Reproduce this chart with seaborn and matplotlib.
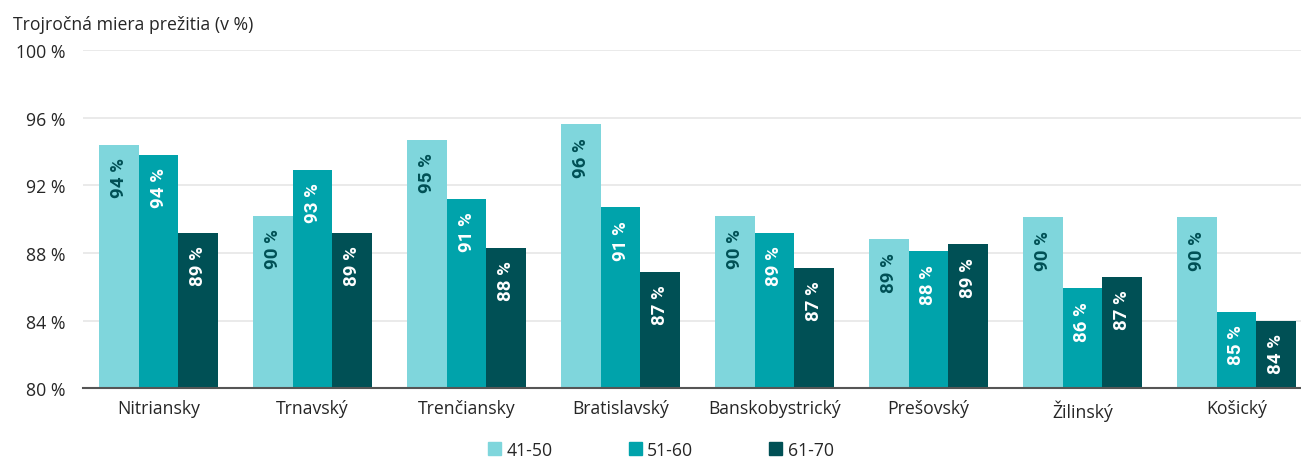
import math
import pandas as pd
import seaborn as sns
import matplotlib.pyplot as plt
from matplotlib.patches import Patch

kraje = ['Nitriansky', 'Trnavský', 'Trenčiansky', 'Bratislavský',
         'Banskobystrický', 'Prešovský', 'Žilinský', 'Košický']
vek_41_50 = [94.4, 90.2, 94.7, 95.6, 90.2, 88.8, 90.1, 90.1]
vek_51_60 = [93.8, 92.9, 91.2, 90.7, 89.2, 88.1, 85.9, 84.5]
vek_61_70 = [89.2, 89.2, 88.3, 86.9, 87.1, 88.5, 86.6, 84.0]
skupiny = ['41-50', '51-60', '61-70']
farby = ['#7fd6dc', '#00a3ab', '#005055']
farby_textu = ['#005055', 'white', 'white']

df = pd.DataFrame({'kraj': kraje * 3,
                   'skupina': [s for s in skupiny for _ in kraje],
                   'hodnota': vek_41_50 + vek_51_60 + vek_61_70})

sns.set_style('white')
plt.rcParams['font.family'] = ['Open Sans', 'DejaVu Sans']
fs = 12.7

fig, ax = plt.subplots(figsize=(13.01, 4.6), dpi=100)
fig.subplots_adjust(left=0.064, right=1.0, top=0.889, bottom=0.154)

sns.barplot(data=df, x='kraj', y='hodnota', hue='skupina', hue_order=skupiny,
            palette=farby, width=0.77, gap=0, saturation=1, ax=ax, legend=False,
            edgecolor='none', zorder=2)

# popisky hodnot, zaokruhlene nahor od .5
for cont, tc in zip(ax.containers, farby_textu):
    for bar, v in zip(cont, cont.datavalues):
        ax.annotate(f'{math.floor(v + 0.5)} %',
                    (bar.get_x() + bar.get_width() / 2, bar.get_y() + bar.get_height()),
                    xytext=(0, -9), textcoords='offset points', rotation=90,
                    ha='center', va='top', color=tc, fontsize=13.5, fontweight='bold',
                    family=['Roboto', 'DejaVu Sans'], zorder=3)

ax.set_ylim(80, 100)
ax.set_xlim(-0.49, 7.42)
ax.set_yticks([80, 84, 88, 92, 96, 100])
ax.set_yticklabels([f'{t} %' for t in [80, 84, 88, 92, 96, 100]], fontsize=fs)
ax.tick_params(axis='x', labelsize=fs, length=0, pad=8)
ax.tick_params(axis='y', length=0, pad=13)
ax.grid(axis='y', color='#e6e6e6', linewidth=1.2, zorder=0)
ax.set_axisbelow(True)
ax.set_xlabel('')
ax.set_ylabel('')
for s in ['top', 'right', 'left']:
    ax.spines[s].set_visible(False)
ax.spines['bottom'].set_color('#555555')
ax.spines['bottom'].set_linewidth(1.5)

fig.text(0.01, 0.945, 'Trojročná miera prežitia (v %)', fontsize=fs, va='center')

handles = [Patch(color=c, label=s) for c, s in zip(farby, skupiny)]
fig.legend(handles=handles, loc='center', bbox_to_anchor=(0.508, 0.02), ncol=3,
           frameon=False, fontsize=fs, handlelength=0.75, handleheight=0.75,
           handletextpad=0.3, columnspacing=4.3)

fig.savefig('out.png', dpi=100)
